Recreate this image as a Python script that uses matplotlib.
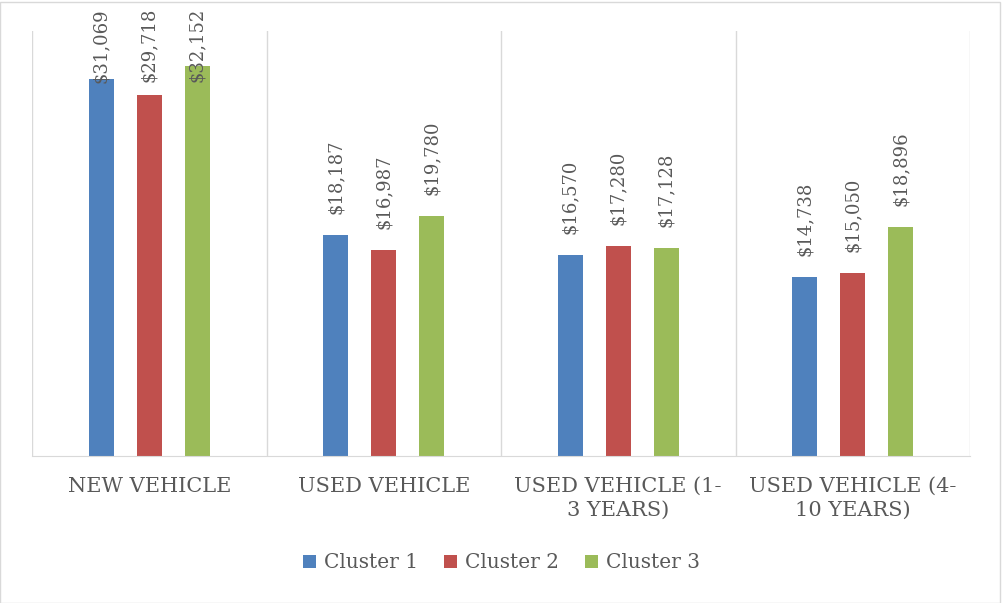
import matplotlib
matplotlib.use("Agg")
import matplotlib.pyplot as plt
import matplotlib.transforms as mtransforms
import numpy as np

categories = ["NEW VEHICLE", "USED VEHICLE", "USED VEHICLE (1-\n3 YEARS)", "USED VEHICLE (4-\n10 YEARS)"]
series_names = ["Cluster 1", "Cluster 2", "Cluster 3"]
cluster1 = [31069, 18187, 16570, 14738]
cluster2 = [29718, 16987, 17280, 15050]
cluster3 = [32152, 19780, 17128, 18896]
colors = ["#4f81bd", "#c0504d", "#9bbb59"]

W, H = 1003, 603
fig = plt.figure(figsize=(W / 100, H / 100), dpi=100)
fig.patch.set_facecolor("white")
# outer light border
fig.add_artist(plt.Rectangle((0.5 / W, 0.5 / H), 1 - 3.5 / W, 1 - 2.5 / H, transform=fig.transFigure,
                             fill=False, edgecolor="#d9d9d9", linewidth=1))

ax = fig.add_axes([32 / W, 1 - 456 / H, (970 - 32) / W, (456 - 31) / H])
ax.set_xlim(-0.5, 3.5)
ax.set_ylim(0, 35000)

x = np.arange(len(categories))
offsets = [-0.205, 0.0, 0.205]
width = 0.106
grey = "#595959"
lblsize = 13
data = [cluster1, cluster2, cluster3]

for b in np.arange(-0.5, 4.0, 1.0):
    ax.axvline(b, color="#d9d9d9", linewidth=1, zorder=0)

texts = []
for s, (vals, off, col, name) in enumerate(zip(data, offsets, colors, series_names)):
    bars = ax.bar(x + off, vals, width, color=col, label=name, zorder=2)
    for xi, v in zip(x + off, vals):
        t = ax.annotate(f"${v:,}", xy=(xi, v), xytext=(0, 15), textcoords="offset points",
                        rotation=90, ha="center", va="bottom", fontsize=lblsize, color=grey,
                        family="DejaVu Serif", annotation_clip=False)
        texts.append((t, xi))

for sp in ["left", "right", "top"]:
    ax.spines[sp].set_visible(False)
ax.spines["bottom"].set_color("#d9d9d9")
ax.set_yticks([])
ax.set_xticks(x)
ax.set_xticklabels(categories, fontsize=15, color=grey, family="DejaVu Serif", linespacing=1.35)
ax.tick_params(axis="x", length=0, pad=15)

# keep data labels inside the figure (shift down like the original)
fig.canvas.draw()
renderer = fig.canvas.get_renderer()
trans = mtransforms.blended_transform_factory(ax.transData, fig.transFigure)
for t, xi in texts:
    bb = t.get_window_extent(renderer)
    if bb.y1 > H - 8:
        t.remove()
        ax.text(xi, 1 - 8 / H, t.get_text(), transform=trans, rotation=90, ha="center", va="top",
                fontsize=lblsize, color=grey, family="DejaVu Serif", zorder=3)

leg = fig.legend(loc="center", bbox_to_anchor=(0.5, 1 - 563 / H), ncol=3, frameon=False,
                 prop={"family": "DejaVu Serif", "size": 14.5}, handlelength=0.65, handleheight=0.65,
                 handletextpad=0.4, columnspacing=1.3)
for txt in leg.get_texts():
    txt.set_color(grey)

fig.savefig("out.png", dpi=100, facecolor="white")
